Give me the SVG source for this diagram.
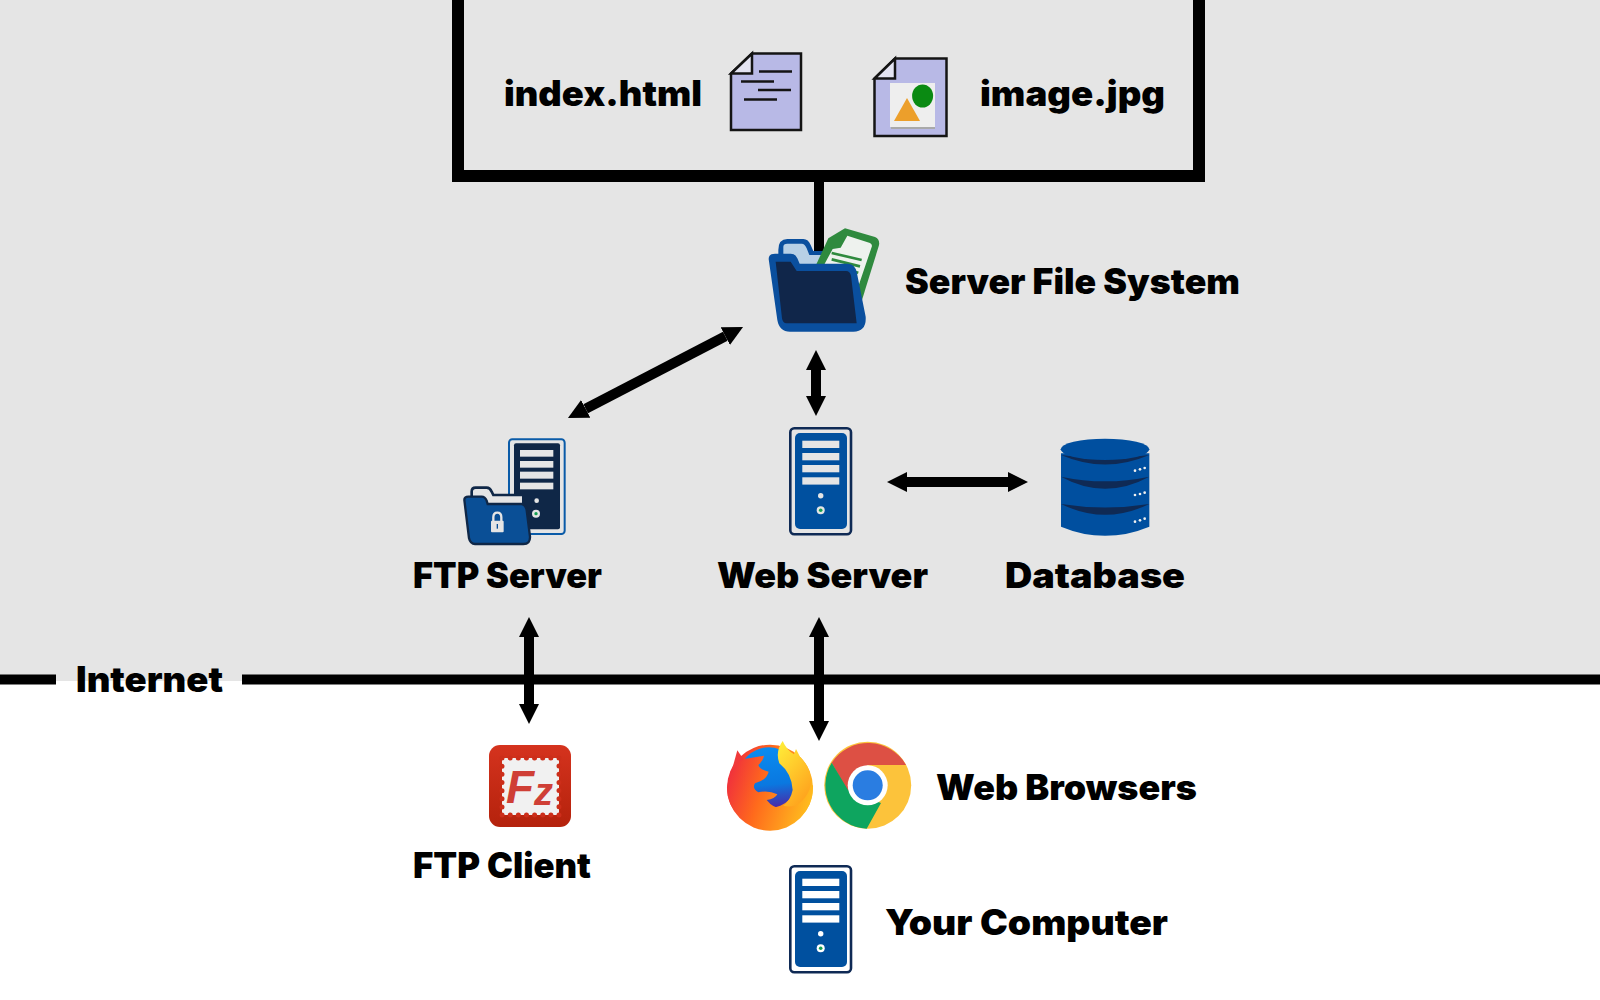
<svg xmlns="http://www.w3.org/2000/svg" width="1600" height="1000" viewBox="0 0 1600 1000">
<style>
.t{font-family:"Inter","Open Sans","Liberation Sans",sans-serif;font-weight:900;font-size:35px;fill:#000}
.c{fill:none;stroke:#000;stroke-width:10}
.a{marker-start:url(#h);marker-end:url(#h)}
.doc{fill:#b8b9e6;stroke:#141414;stroke-width:2.5}
.fold{fill:#e4e4f2;stroke:#141414;stroke-width:2.5}
.dl{stroke:#141414;stroke-width:2.5}
</style>
<defs>
<marker id="h" markerUnits="userSpaceOnUse" markerWidth="21" markerHeight="22" refX="0" refY="11" orient="auto-start-reverse"><path d="M0 1L20 11L0 21Z" fill="#000"/></marker>
<symbol id="tower" width="64" height="110" viewBox="0 0 64 110" overflow="visible">
<rect x="1.3" y="1.3" width="60.7" height="106" rx="4" fill="none" stroke="#0f2a55" stroke-width="2.6"/>
<rect x="6" y="6" width="52" height="96" rx="5" fill="#00509f"/>
<g fill="currentColor"><rect x="13.3" y="13.7" width="37" height="7.3"/><rect x="13.3" y="26" width="37" height="7.3"/><rect x="13.3" y="38" width="37" height="7.3"/><rect x="13.3" y="50.3" width="37" height="7.3"/><circle cx="31.7" cy="68.7" r="2.7"/><circle cx="31.7" cy="83.3" r="4"/></g>
<circle cx="31.7" cy="83.3" r="1.8" fill="#14a050"/>
</symbol>
<linearGradient id="fz" x1="0" y1="0" x2="0" y2="1"><stop offset="0" stop-color="#d5331e"/><stop offset="1" stop-color="#b4220c"/></linearGradient>
<linearGradient id="fxb" gradientUnits="userSpaceOnUse" x1="25" y1="120" x2="280" y2="200"><stop offset="0" stop-color="#f0303c"/><stop offset=".4" stop-color="#ff6a1c"/><stop offset="1" stop-color="#ffc01e"/></linearGradient>
<linearGradient id="fxg" x1="0.4" y1="0" x2="0.5" y2="1"><stop offset="0" stop-color="#0a8cf0"/><stop offset=".62" stop-color="#0a78e0"/><stop offset="1" stop-color="#4a2aa8"/></linearGradient>
<linearGradient id="fxt" x1="0" y1="0" x2="0.6" y2="1"><stop offset="0" stop-color="#fff03a"/><stop offset="1" stop-color="#ffa51e"/></linearGradient>
</defs>
<rect width="1600" height="1000" fill="#fff"/>
<rect width="1600" height="681" fill="#e5e5e5"/>
<g id="connectors">
<rect class="c" x="458" y="-20" width="741" height="196" style="stroke-width:12"/>
<path class="c" d="M819 182V256"/>
<path class="c" d="M0 679.500H56M242 679.500H1600"/>
<path class="c a" d="M585.700 408.800L725.300 336.200"/>
<path class="c a" d="M816 370V396"/>
<path class="c a" d="M907 482H1008"/>
<path class="c a" d="M529 637V704"/>
<path class="c a" d="M819 637V721"/>
</g>
<g id="index-html">
<path class="doc" d="M752 53.500H801V130H731V73.500Z"/><path class="fold" d="M752 53.500V73.500H731Z"/>
<path class="dl" d="M759 71.500H792M741 81.500H774M758 90H791M744 99.500H777"/>
<text class="t" x="504" y="106" textLength="198" lengthAdjust="spacingAndGlyphs">index.html</text>
</g>
<g id="image-jpg">
<path class="doc" d="M895 58.500H946.500V136H874.500V78.500Z"/><path class="fold" d="M895 58.500V78.500H874.500Z"/>
<rect x="891" y="85" width="44" height="44" fill="#a9a9a9"/><rect x="890" y="83" width="45" height="44" fill="#eeeeee"/>
<ellipse cx="922.600" cy="96" rx="10.500" ry="11.500" fill="#0a8a12"/><path d="M894 121H920L907 98Z" fill="#ec9f2b"/>
<text class="t" x="980" y="106" textLength="185" lengthAdjust="spacingAndGlyphs">image.jpg</text>
</g>
<g id="server-file-system">
<g transform="translate(750 215) scale(.33333)">
<path d="M85 105Q85 72 112 72H160Q175 72 182 90L190 108H225V160H85Z" fill="#0a4f9e"/>
<path d="M100 120V95Q100 86 112 86H155Q165 86 170 100L178 120H220V150H100Z" fill="#b7d0e6"/>
<path d="M198 150L235 70L285 40L375 66Q392 74 386 94L332 268L310 250Z" fill="#2f8a3e"/>
<path d="M222 150L248 102L272 98L292 62L360 84Q368 88 365 96L318 235L300 200Z" fill="#eef2ee"/>
<path d="M245 114L335 135M245 133L330 154M245 152L325 173M245 170L318 190" stroke="#2f8a3e" stroke-width="8" fill="none"/>
<path d="M56 132Q56 116 75 116H122Q136 116 142 130L149 146H295Q314 148 320 170L347 305Q350 349 310 350H120Q88 350 82 315Z" fill="#0a4f9e"/>
<path d="M77 140H122L140 168H288Q300 168 303 182L320 325H110Q98 325 96 310Z" fill="#10264a"/>
</g>
<text class="t" x="905" y="294" textLength="335" lengthAdjust="spacingAndGlyphs">Server File System</text>
</g>
<g id="ftp-server">
<g transform="translate(455 430) scale(.33333)">
<rect x="162" y="28" width="167" height="284" rx="10" fill="#e5e5e5" stroke="#0a5ba8" stroke-width="6"/>
<rect x="177" y="40" width="138" height="258" rx="6" fill="#0f2747"/>
<g fill="#e5e5e5"><rect x="195" y="60" width="100" height="20"/><rect x="195" y="93" width="100" height="20"/><rect x="195" y="125" width="100" height="21"/><rect x="195" y="158" width="100" height="20"/><circle cx="245" cy="212" r="7"/><circle cx="243" cy="251" r="12"/></g>
<circle cx="243" cy="251" r="5" fill="#14a050"/>
<path d="M50 195V185Q50 173 62 173H95Q105 173 110 185L115 195H205V235H50Z" fill="#e5e5e5" stroke="#0f2747" stroke-width="8"/>
<path d="M28 210Q28 200 40 200H80Q90 200 95 212L98 222H200Q212 224 215 240L225 320Q226 342 205 342H60Q46 342 42 325Z" fill="#0a4f96" stroke="#0f2747" stroke-width="7"/>
<path d="M115 275V262Q115 248 127 248Q139 248 139 262V275" fill="none" stroke="#e5e5e5" stroke-width="7"/>
<rect x="108" y="272" width="38" height="35" rx="3" fill="#e5e5e5"/><rect x="125" y="282" width="4" height="14" fill="#0a4f96"/>
</g>
<text class="t" x="413" y="588" textLength="189" lengthAdjust="spacingAndGlyphs">FTP Server</text>
</g>
<g id="web-server">
<use href="#tower" x="789" y="427" width="64" height="110" color="#e5e5e5"/>
<text class="t" x="717" y="588" textLength="211" lengthAdjust="spacingAndGlyphs">Web Server</text>
</g>
<g id="database">
<g transform="translate(1050 430) scale(.33333)">
<path d="M33 70H298V290Q165 345 33 290Z" fill="#004f9f"/>
<path d="M33 140Q165 168 298 140Q165 212 33 140ZM33 222Q165 243 298 222Q165 287 33 222ZM33 75Q165 95 298 75Q165 132 33 75Z" fill="#0f2a55"/>
<ellipse cx="165" cy="58" rx="133" ry="32" fill="#004f9f"/>
<g fill="#f0f0f0"><circle cx="255" cy="122" r="4"/><circle cx="270" cy="118" r="4"/><circle cx="284" cy="114" r="4"/><circle cx="255" cy="195" r="4"/><circle cx="270" cy="192" r="4"/><circle cx="284" cy="188" r="4"/><circle cx="255" cy="275" r="4"/><circle cx="270" cy="271" r="4"/><circle cx="284" cy="266" r="4"/></g>
</g>
<text class="t" x="1005" y="588" textLength="180" lengthAdjust="spacingAndGlyphs">Database</text>
</g>
<g id="internet"><text class="t" x="76" y="692" textLength="147" lengthAdjust="spacingAndGlyphs">Internet</text></g>
<g id="ftp-client">
<rect x="489" y="745" width="82" height="82" rx="11" fill="url(#fz)"/>
<rect x="502" y="758" width="57" height="57" fill="#f1f1f1"/>
<rect x="502" y="758" width="57" height="57" fill="none" stroke="#cc2e1a" stroke-width="5" stroke-linecap="round" stroke-dasharray="0 8.140"/>
<text x="506" y="803" font-family="Liberation Sans, sans-serif" font-weight="700" font-style="italic" font-size="46" fill="#cf3f36">F<tspan dy="2" font-size="38">z</tspan></text>
<text class="t" x="413" y="878" textLength="178" lengthAdjust="spacingAndGlyphs">FTP Client</text>
</g>
<g id="web-browsers">
<g transform="translate(720 735) scale(.33333)">
<circle cx="150" cy="158" r="129" fill="url(#fxb)"/>
<path d="M36 104L52 46L74 78Z" fill="#f03a3a"/>
<circle cx="146" cy="128" r="91" fill="url(#fxg)"/>
<path d="M21 158Q28 95 72 72L132 62Q128 80 115 90Q120 105 146 110Q140 135 105 145Q95 160 115 172Q145 165 172 178Q165 192 140 195Q165 228 205 218Q232 208 245 170L279 150Q282 235 200 272Q120 297 60 245Q21 210 21 158Z" fill="url(#fxb)"/>
<path d="M188 18Q165 50 178 85Q215 115 218 165Q212 195 190 212Q240 225 268 165Q285 110 240 65L228 42L222 58Q200 45 188 18Z" fill="url(#fxt)"/>
</g>
<circle cx="867.700" cy="785.300" r="43.500" fill="#fcc33b"/>
<path d="M831.700 762.700A43.500 43.500 0 0 1 906 765H867.700L848 792Z" fill="#dd5044"/>
<path d="M831.700 762.700A43.500 43.500 0 0 0 866.700 828.800L881 803L848 790Z" fill="#0ea55f"/>
<circle cx="867.700" cy="785.300" r="20" fill="#fff"/><circle cx="867.700" cy="785.300" r="15" fill="#2a7de1"/>
<text class="t" x="936" y="800" textLength="261" lengthAdjust="spacingAndGlyphs">Web Browsers</text>
</g>
<g id="your-computer">
<use href="#tower" x="789" y="865" width="64" height="110" color="#fff"/>
<text class="t" x="885" y="935" textLength="283" lengthAdjust="spacingAndGlyphs">Your Computer</text>
</g>
</svg>
